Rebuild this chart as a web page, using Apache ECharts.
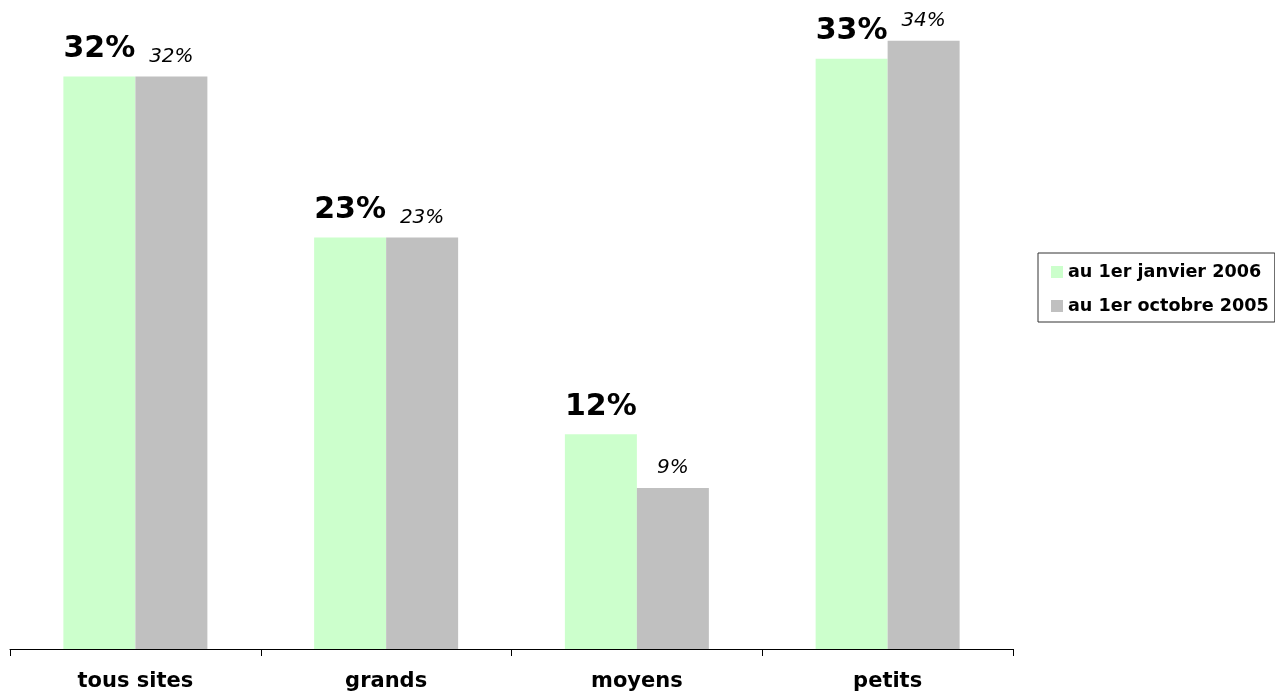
<!DOCTYPE html>
<html>
<head>
<meta charset="utf-8">
<script src="https://cdn.jsdelivr.net/npm/echarts@6/dist/echarts.min.js"></script>
<style>
html,body{margin:0;padding:0;background:#fff;}
#chart{width:1275px;height:695px;}
</style>
</head>
<body>
<div id="chart"></div>
<script>
const categories = ['tous sites', 'grands', 'moyens', 'petits'];
const seriesNames = ['au 1er janvier 2006', 'au 1er octobre 2005'];
const janvier2006 = [32, 23, 12, 33];
const octobre2005 = [32, 23, 9, 34];

const chart = echarts.init(document.getElementById('chart'), null, {renderer: 'canvas'});
const font = 'DejaVu Sans, Verdana, sans-serif';
chart.setOption({
  animation: false,
  backgroundColor: '#ffffff',
  grid: {left: 10, right: 262, top: 5, bottom: 46, containLabel: false},
  legend: {
    orient: 'vertical',
    left: 1038,
    top: 253,
    data: seriesNames,
    icon: 'rect',
    itemWidth: 12,
    itemHeight: 12,
    itemGap: 14,
    padding: [9, 6, 6, 13],
    borderColor: '#333333',
    borderWidth: 1,
    textStyle: {fontFamily: font, fontWeight: 'bold', fontSize: 17.6, color: '#000', lineHeight: 20}
  },
  xAxis: {
    type: 'category',
    data: categories,
    axisLine: {lineStyle: {color: '#000', width: 1}},
    axisTick: {show: true, length: 7, lineStyle: {color: '#000'}},
    axisLabel: {margin: 22, fontFamily: font, fontWeight: 'bold', fontSize: 21, color: '#000'}
  },
  yAxis: {
    type: 'value',
    min: 0,
    max: 36,
    show: false,
    splitLine: {show: false}
  },
  series: [
    {
      name: seriesNames[0],
      type: 'bar',
      data: janvier2006,
      barWidth: 72,
      barGap: '0%',
      itemStyle: {color: '#CCFFCC'},
      label: {
        show: true, position: 'top', distance: 12,
        formatter: p => p.value + '%',
        fontFamily: font, fontWeight: 'bold', fontSize: 30, color: '#000'
      }
    },
    {
      name: seriesNames[1],
      type: 'bar',
      data: octobre2005,
      barWidth: 72,
      barGap: '0%',
      itemStyle: {color: '#C0C0C0'},
      label: {
        show: true, position: 'top', distance: 10,
        formatter: p => p.value + '%',
        fontFamily: font, fontStyle: 'italic', fontWeight: 'normal', fontSize: 20, color: '#000'
      }
    }
  ]
});
</script>
</body>
</html>
